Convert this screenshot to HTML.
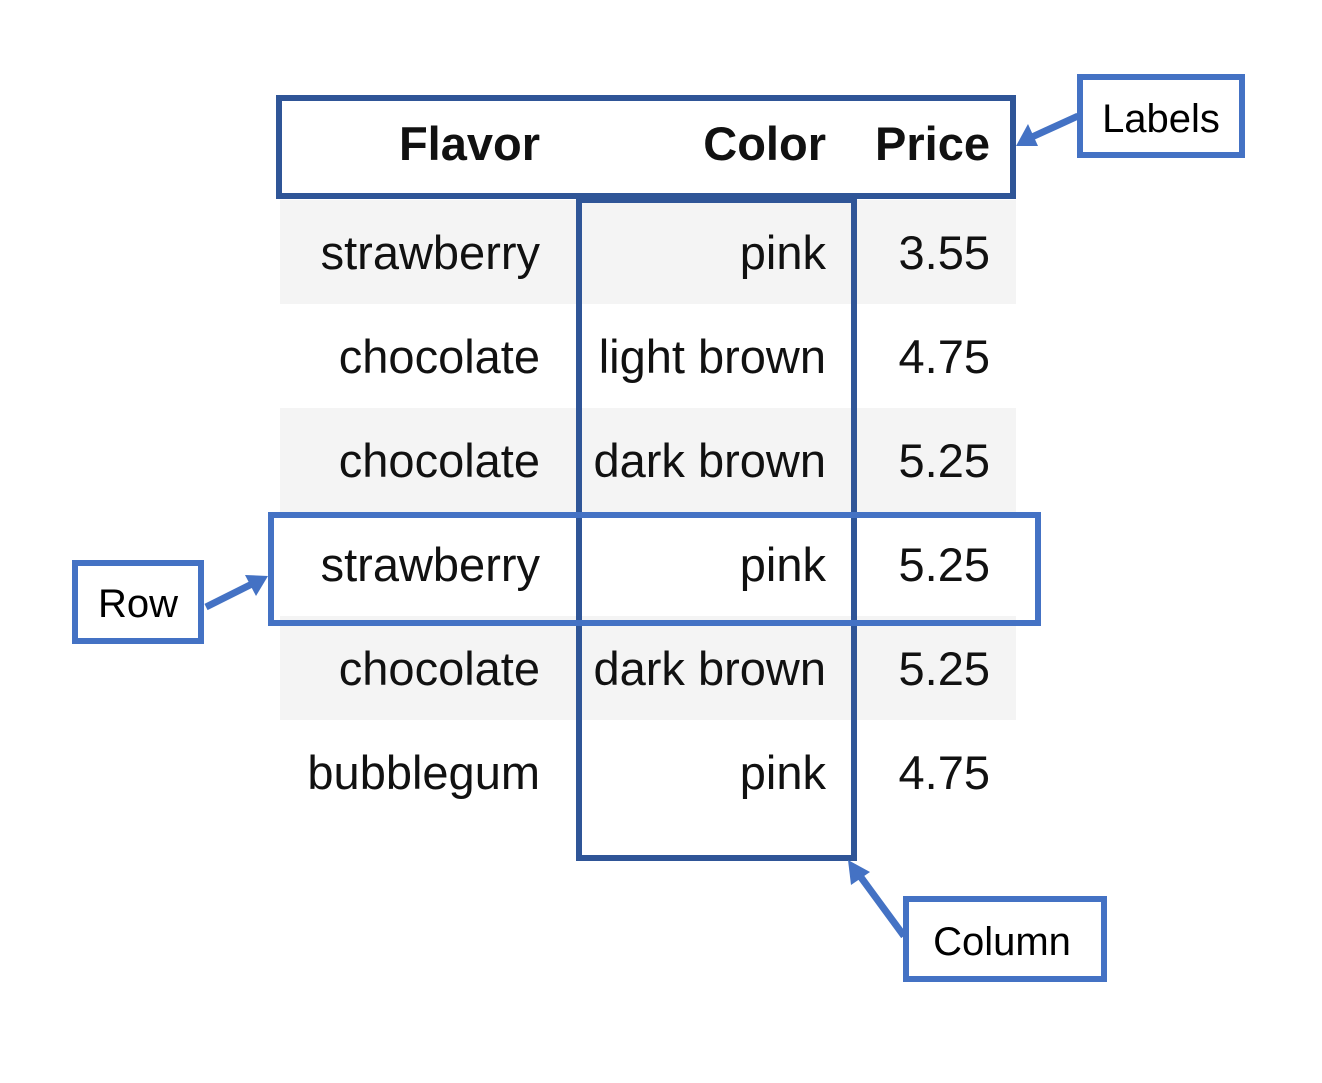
<!DOCTYPE html>
<html><head><meta charset="utf-8"><style>
html,body{margin:0;padding:0;background:#fff;}
svg{display:block;}
.c{font-family:"Liberation Sans",Arial,sans-serif;font-size:47px;fill:#111;text-anchor:end;}
.h{font-weight:bold;}
.cal{font-family:"Liberation Sans",Calibri,sans-serif;font-size:40px;fill:#000;text-anchor:middle;}
</style></head><body>
<svg width="1322" height="1083" viewBox="0 0 1322 1083">
<g id="table"></g>
<rect x="279" y="98" width="734" height="98" fill="none" stroke="#2f5597" stroke-width="6"/>
<rect x="579" y="200" width="275" height="658" fill="none" stroke="#2f5597" stroke-width="6"/>
<rect x="271" y="515" width="767" height="108" fill="none" stroke="#4472c4" stroke-width="6"/>
<g>
<rect x="1080" y="77" width="162" height="78" fill="#fff" stroke="#4472c4" stroke-width="6"/>
<text class="cal" x="1161" y="132">Labels</text>
<line x1="1078" y1="116" x2="1032" y2="137" stroke="#4472c4" stroke-width="7"/>
<polygon points="1016,146 1028,124 1038,146" fill="#4472c4"/>
</g>
<g>
<rect x="75" y="563" width="126" height="78" fill="#fff" stroke="#4472c4" stroke-width="6"/>
<text class="cal" x="138" y="617">Row</text>
<line x1="206" y1="607" x2="254" y2="583" stroke="#4472c4" stroke-width="7"/>
<polygon points="268,576 245,575 256,596" fill="#4472c4"/>
</g>
<g>
<rect x="906" y="899" width="198" height="80" fill="#fff" stroke="#4472c4" stroke-width="6"/>
<text class="cal" x="1002" y="955">Column</text>
<line x1="904" y1="936" x2="860" y2="876" stroke="#4472c4" stroke-width="7"/>
<polygon points="848,860 851,885 870,872" fill="#4472c4"/>
</g>
<script>
const headers=["Flavor","Color","Price"];
const flavors=["strawberry","chocolate","chocolate","strawberry","chocolate","bubblegum"];
const colors=["pink","light brown","dark brown","pink","dark brown","pink"];
const prices=["3.55","4.75","5.25","5.25","5.25","4.75"];
const ns="http://www.w3.org/2000/svg";
const g=document.getElementById('table');
const colRight=[540,826,990];
function mk(tag,attrs){const e=document.createElementNS(ns,tag);for(const k in attrs)e.setAttribute(k,attrs[k]);return e;}
flavors.forEach((f,i)=>{
  const y=200+i*104;
  if(i%2===0){const r=mk('rect',{x:280,y:y,width:736,height:104,fill:'#f4f4f4'});
  
  
  g.appendChild(r);}
  [f,colors[i],prices[i]].forEach((v,j)=>{
    const t=mk('text',{x:colRight[j],y:y+69,class:'c'});
    t.textContent=v;
    
    
    g.appendChild(t);
  });
});
headers.forEach((h,j)=>{
  const t=mk('text',{x:colRight[j],y:160,class:'c h'});
  t.textContent=h;
  
  
  g.appendChild(t);
});
</script>
</svg>
</body></html>
